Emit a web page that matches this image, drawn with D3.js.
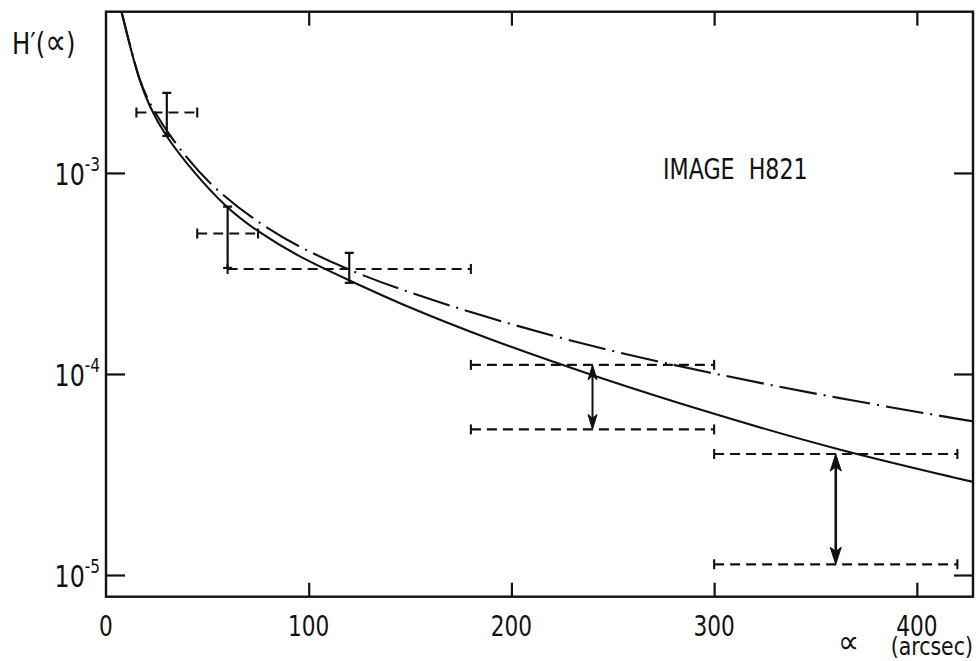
<!DOCTYPE html>
<html>
<head>
<meta charset="utf-8">
<script src="https://cdn.jsdelivr.net/npm/d3@7"></script>
<style>
  html, body { margin: 0; padding: 0; background: #fff; }
  svg { display: block; }
  text { font-family: "DejaVu Sans Condensed", "Liberation Sans Narrow", "DejaVu Sans", sans-serif; fill: #111; }
</style>
</head>
<body>
<svg id="chart" width="976" height="661"></svg>
<script>
// ---- data ----
const xTicks = [0, 100, 200, 300, 400];
const yTicks = [1e-3, 1e-4, 1e-5];
const yTickExp = ["-3", "-4", "-5"];

// solid model curve
const alphaSolid = [7.4, 12.3, 16.4, 21.4, 28.8, 43.1, 59.5, 74.3, 94.7, 119.5, 148.3, 189.4, 240, 300, 360, 428];
const hSolid     = [6.47e-3, 4.09e-3, 2.90e-3, 2.14e-3, 1.55e-3, 1.01e-3, 6.67e-4, 5.15e-4, 3.84e-4, 2.94e-4, 2.16e-4, 1.48e-4, 9.8e-5, 6.3e-5, 4.2e-5, 2.9e-5];

// dash-dot model curve
const alphaDashDot = [7.4, 12.3, 16.4, 19.7, 29.9, 51.3, 76, 94.7, 119.5, 148.3, 189.4, 240, 300, 360, 428];
const hDashDot     = [6.5e-3, 4.12e-3, 2.93e-3, 2.4e-3, 1.58e-3, 8.55e-4, 5.57e-4, 4.3e-4, 3.29e-4, 2.56e-4, 1.89e-4, 1.36e-4, 1.0e-4, 7.6e-5, 5.8e-5];

// dashed horizontal bins: [alpha from, alpha to, value]
const binFrom  = [15, 45, 60, 180, 180, 300, 300];
const binTo    = [45, 75, 180, 300, 300, 420, 420];
const binValue = [2.0e-3, 5.0e-4, 3.33e-4, 1.11e-4, 5.3e-5, 4.0e-5, 1.13e-5];

// vertical error bars with caps
const errAlpha = [30, 60, 120];
const errLow   = [1.53e-3, 3.37e-4, 2.84e-4];
const errHigh  = [2.5e-3, 6.8e-4, 4.0e-4];

// double-headed arrows
const arrowAlpha = [240, 360];
const arrowLow   = [5.3e-5, 1.13e-5];
const arrowHigh  = [1.11e-4, 4.0e-5];

// ---- layout ----
const L = 106, R = 973, T = 11.7, B = 596.7;
const svg = d3.select("#chart");
const x = d3.scaleLinear().domain([0, 427.7]).range([L, R]);
const y = d3.scaleLog().domain([7.8e-6, 6.34e-3]).range([B, T]);

svg.append("defs").append("clipPath").attr("id", "clip")
  .append("rect").attr("x", L).attr("y", T).attr("width", R - L).attr("height", B - T);

const ink = "#111";

// frame
svg.append("rect").attr("x", L).attr("y", T).attr("width", R - L).attr("height", B - T)
  .attr("fill", "none").attr("stroke", ink).attr("stroke-width", 2.4);

function styleAxis(g) {
  g.select(".domain").remove();
  g.selectAll(".tick line").attr("stroke", ink).attr("stroke-width", 2.2);
  g.selectAll(".tick text").remove();
}
svg.append("g").attr("transform", `translate(0,${B})`)
  .call(d3.axisBottom(x).tickValues(xTicks.filter(d => d > 0)).tickSize(-14)).call(styleAxis);
svg.append("g").attr("transform", `translate(0,${T})`)
  .call(d3.axisTop(x).tickValues(xTicks.filter(d => d > 0)).tickSize(-14)).call(styleAxis);
svg.append("g").attr("transform", `translate(${L},0)`)
  .call(d3.axisLeft(y).tickValues(yTicks).tickSize(-19)).call(styleAxis);
svg.append("g").attr("transform", `translate(${R},0)`)
  .call(d3.axisRight(y).tickValues(yTicks).tickSize(-19)).call(styleAxis);

// condensed text helper
function label(px, py, size, anchor, sx) {
  return svg.append("g").attr("transform", `translate(${px},${py}) scale(${sx},1)`)
    .append("text").attr("text-anchor", anchor).attr("font-size", size);
}

// x tick labels
xTicks.forEach(d => label(x(d), 636, 28, "middle", 0.86).text(d));

// y tick labels
yTicks.forEach((v, i) => {
  const t = label(100, y(v) + 12, 31, "end", 0.85);
  t.append("tspan").text("10");
  t.append("tspan").attr("font-size", 20).attr("dy", -14).text(yTickExp[i]);
});

// axis titles
const hy = label(12, 54, 30, "start", 0.9);
hy.append("tspan").text("H′(");
hy.append("tspan").attr("font-size", 36).text("∝");
hy.append("tspan").text(")");

label(838, 653, 33, "start", 1.0).text("∝");
label(973, 655, 24, "end", 0.95).text("(arcsec)");

label(663, 179, 29, "start", 0.85).attr("xml:space", "preserve").text("IMAGE  H821");

const plot = svg.append("g").attr("clip-path", "url(#clip)");

// curves
const line = d3.line().x(d => x(d[0])).y(d => y(d[1])).curve(d3.curveBasis);
plot.append("path").datum(alphaSolid.map((a, i) => [a, hSolid[i]]))
  .attr("d", line).attr("fill", "none").attr("stroke", ink).attr("stroke-width", 2.1);
plot.append("path").datum(alphaDashDot.map((a, i) => [a, hDashDot[i]]))
  .attr("d", line).attr("fill", "none").attr("stroke", ink).attr("stroke-width", 2.1)
  .attr("stroke-dasharray", "38,7,2,7");

// dashed bins
binValue.forEach((v, i) => {
  const x0 = x(binFrom[i]), x1 = x(binTo[i]), yy = y(v);
  const g = plot.append("g").attr("stroke", ink).attr("stroke-width", 2.1);
  g.append("line").attr("x1", x0).attr("x2", x1).attr("y1", yy).attr("y2", yy)
    .attr("stroke-dasharray", "10,6");
  [x0, x1].forEach(xx => g.append("line").attr("x1", xx).attr("x2", xx)
    .attr("y1", yy - 5).attr("y2", yy + 5));
});

// error bars
errAlpha.forEach((a, i) => {
  const xx = x(a), y0 = y(errLow[i]), y1 = y(errHigh[i]);
  const g = plot.append("g").attr("stroke", ink).attr("stroke-width", 2.2);
  g.append("line").attr("x1", xx).attr("x2", xx).attr("y1", y0).attr("y2", y1);
  [y0, y1].forEach(yy => g.append("line").attr("x1", xx - 4.5).attr("x2", xx + 4.5).attr("y1", yy).attr("y2", yy));
});

// double-headed arrows
arrowAlpha.forEach((a, i) => {
  const xx = x(a), y0 = y(arrowLow[i]), y1 = y(arrowHigh[i]);
  const w = i === 0 ? 2.0 : 2.6, hl = i === 0 ? 15 : 17, hw = i === 0 ? 4.5 : 5.5;
  const g = plot.append("g");
  g.append("line").attr("x1", xx).attr("x2", xx).attr("y1", y0 - 6).attr("y2", y1 + 6)
    .attr("stroke", ink).attr("stroke-width", w);
  g.append("path").attr("d", `M${xx},${y1} L${xx - hw},${y1 + hl} L${xx},${y1 + hl - 4} L${xx + hw},${y1 + hl} Z`)
    .attr("fill", ink).attr("stroke", ink).attr("stroke-width", 1);
  g.append("path").attr("d", `M${xx},${y0} L${xx - hw},${y0 - hl} L${xx},${y0 - hl + 4} L${xx + hw},${y0 - hl} Z`)
    .attr("fill", ink).attr("stroke", ink).attr("stroke-width", 1);
});
</script>
</body>
</html>
